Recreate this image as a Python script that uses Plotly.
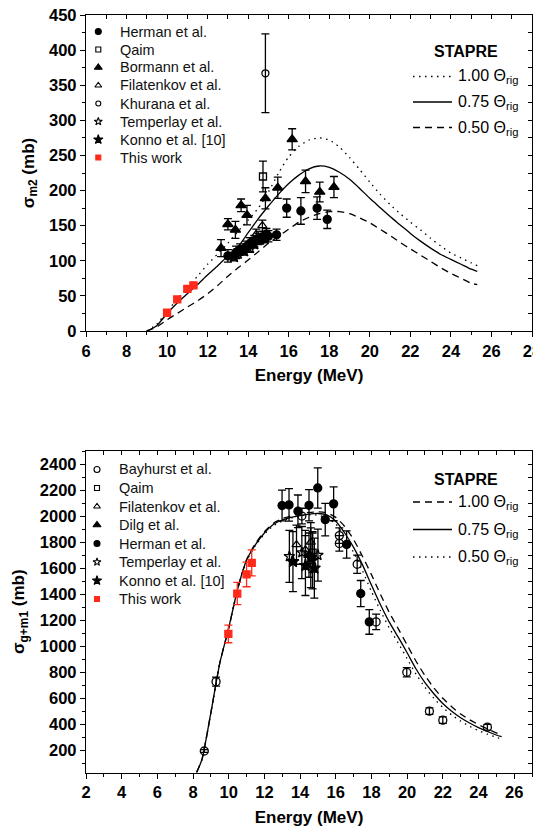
import plotly.graph_objects as go

# ---------------- top panel: sigma_m2 ----------------
herman_t_E = [13.0, 13.4, 13.6, 13.9, 14.1, 14.3, 14.5, 14.7, 14.9, 15.0, 15.4, 15.9, 16.6, 17.4, 17.9]
herman_t_v = [107, 112, 116, 120, 125, 128, 131, 134, 138, 135, 137, 175, 171, 175, 159]
herman_t_e = [9, 9, 8, 8, 8, 8, 8, 8, 8, 8, 8, 13, 19, 16, 13]

qaim_t_E = [14.73]
qaim_t_v = [220]
qaim_t_e = [22]

bormann_E = [12.66, 13.0, 13.37, 13.65, 13.94, 14.85, 15.46, 16.17, 16.83, 17.53, 18.23]
bormann_v = [118, 152, 144, 179, 165, 189, 204, 273, 213, 198, 205]
bormann_e = [12, 8, 12, 9, 14, 15, 15, 15, 16, 14, 15]

filat_t_E = [13.7, 14.1, 14.4, 14.7]
filat_t_v = [115, 127, 138, 150]
filat_t_e = [6, 6, 7, 8]

khurana_E = [14.85]
khurana_v = [367]
khurana_e = [56]

temper_t_E = [13.5, 14.1, 14.6]
temper_t_v = [110, 118, 130]
temper_t_e = [6, 6, 6]

konno_t_E = [13.3, 13.8, 14.3, 14.8]
konno_t_v = [106, 114, 124, 132]
konno_t_e = [6, 6, 6, 6]

work_t_E = [10.0, 10.5, 11.0, 11.3]
work_t_v = [26, 45, 60, 65]
work_t_e = [2, 3, 3, 3]

curve_t_E = [9.0, 9.5, 10, 10.5, 11, 11.5, 12, 12.5, 13, 13.5, 14, 14.5, 15, 15.5, 16, 16.5, 17,
             17.5, 18, 18.5, 19, 19.5, 20, 20.5, 21, 21.5, 22, 22.5, 23, 23.5, 24, 24.5, 25, 25.3]
curve_t_100 = [0, 10, 28, 45, 62, 78, 95, 110, 125, 142, 158, 175, 198, 225, 248, 263, 272,
               275, 272, 262, 247, 230, 212, 195, 180, 167, 155, 144, 132, 121, 111, 104, 97, 93]
curve_t_075 = [0, 8, 25, 40, 53, 66, 80, 93, 107, 120, 140, 160, 178, 195, 210, 222, 231,
               235, 233, 226, 216, 203, 189, 176, 163, 151, 139, 128, 118, 109, 102, 95, 88, 85]
curve_t_050 = [0, 6, 16, 25, 34, 43, 53, 65, 78, 90, 101, 113, 125, 135, 145, 155, 162,
               167, 170, 170, 167, 161, 154, 145, 136, 126, 117, 108, 99, 90, 82, 75, 68, 66]

# ---------------- bottom panel: sigma_g+m1 ----------------
bay_E = [8.63, 9.29, 14.1, 16.2, 16.2, 17.2, 18.26, 19.98, 21.25, 22.0, 24.5]
bay_v = [195, 728, 2000, 1850, 1790, 1630, 1187, 800, 501, 432, 378]
bay_e = [10, 35, 60, 60, 60, 70, 60, 35, 25, 25, 22]

qaim_b_E = [14.7]
qaim_b_v = [1720]
qaim_b_e = [150]

filat_b_E = [13.8, 14.3, 14.6]
filat_b_v = [1780, 1740, 1800]
filat_b_e = [150, 150, 150]

dilg_E = [14.5]
dilg_v = [1700]
dilg_e = [170]

herman_b_E = [12.99, 13.38, 13.88, 14.5, 14.99, 15.41, 15.88, 16.61, 17.4, 17.88]
herman_b_v = [2081, 2086, 2037, 2083, 2216, 1973, 2094, 1782, 1405, 1187]
herman_b_e = [118, 125, 125, 120, 155, 125, 130, 105, 100, 95]

temper_b_E = [13.4, 14.1, 14.7, 15.0]
temper_b_v = [1690, 1720, 1660, 1700]
temper_b_e = [200, 200, 220, 200]

konno_b_E = [13.6, 14.3, 14.6, 14.8]
konno_b_v = [1650, 1620, 1680, 1600]
konno_b_e = [230, 230, 230, 230]

work_b_E = [9.98, 10.48, 11.0, 11.29]
work_b_v = [1095, 1405, 1552, 1640]
work_b_e = [68, 85, 95, 100]

curve_b_E = [8.2, 8.5, 9.0, 9.5, 10.0, 10.5, 11.0, 11.5, 12.0, 12.5, 13.0, 13.5, 14.0, 14.5, 15.0,
             15.5, 16.0, 16.5, 17.0, 17.5, 18.0, 18.5, 19.0, 19.5, 20.0, 20.5, 21.0, 21.5, 22.0,
             22.5, 23.0, 23.5, 24.0, 24.5, 25.0, 25.3]
curve_b_100 = [30, 130, 490, 870, 1140, 1440, 1665, 1790, 1880, 1945, 1980, 2002, 2018, 2028, 2032,
               2025, 1990, 1920, 1820, 1690, 1550, 1400, 1260, 1135, 1010, 885, 775, 680, 600,
               535, 480, 435, 398, 365, 335, 320]
curve_b_075 = [30, 130, 490, 870, 1140, 1440, 1660, 1780, 1870, 1935, 1970, 1990, 2004, 2015, 2020,
               2009, 1960, 1870, 1760, 1625, 1470, 1320, 1185, 1070, 950, 825, 720, 635, 560,
               500, 450, 410, 375, 345, 318, 305]
curve_b_050 = [30, 130, 490, 870, 1140, 1440, 1655, 1775, 1862, 1925, 1962, 1985, 2002, 2010, 2008,
               1985, 1940, 1840, 1720, 1580, 1420, 1275, 1140, 1025, 905, 785, 685, 600, 530,
               472, 425, 385, 352, 325, 300, 290]

legend_top = ["Herman et al.", "Qaim", "Bormann et al.", "Filatenkov et al.", "Khurana et al.",
              "Temperlay et al.", "Konno et al. [10]", "This work"]
legend_bot = ["Bayhurst et al.", "Qaim", "Filatenkov et al.", "Dilg et al.", "Herman et al.",
              "Temperlay et al.", "Konno et al. [10]", "This work"]
theta_labels = ["1.00 \u0398<sub>rig</sub>", "0.75 \u0398<sub>rig</sub>", "0.50 \u0398<sub>rig</sub>"]

FONT = "Liberation Sans, Arial, Helvetica, sans-serif"
# the page body has an 8px default margin: the figure is laid out in window pixels minus that offset
OFF = 8
W, H = 541 - OFF, 828 - OFF
RED = "#ff2a1a"
DOT = "1.5px,4.5px"
DASH = "7px,5px"


def px(x):   # window pixel x -> paper fraction
    return (x - OFF) / W


def py(y):   # window pixel y -> paper fraction
    return 1 - (y - OFF) / H


SYM = {
    "Herman et al.": ("circle", 8, "black"),
    "Qaim": ("square-open", 7, "black"),
    "Bormann et al.": ("triangle-up", 9, "black"),
    "Filatenkov et al.": ("triangle-up-open", 8, "black"),
    "Khurana et al.": ("circle-open", 7, "black"),
    "Temperlay et al.": ("star-open", 8, "black"),
    "Konno et al. [10]": ("star", 9, "black"),
    "This work": ("square", 7, RED),
    "Bayhurst et al.": ("circle-open", 8, "black"),
    "Dilg et al.": ("triangle-up", 9, "black"),
}

fig = go.Figure()


def pts(E, v, e, name, xa, ya):
    symbol, size, color = SYM[name]
    fig.add_trace(go.Scatter(
        x=E, y=v, mode="markers", name=name, xaxis=xa, yaxis=ya, showlegend=False,
        marker=dict(symbol=symbol, size=size, color=color, line=dict(color=color, width=1.3)),
        error_y=dict(type="data", array=e, visible=True, color=color, thickness=1.3, width=4),
        cliponaxis=False,
    ))


def curve(E, v, name, dash, xa, ya):
    fig.add_trace(go.Scatter(
        x=E, y=v, mode="lines", name=name, xaxis=xa, yaxis=ya, showlegend=False,
        line=dict(color="black", width=1.3, dash=dash, shape="spline", smoothing=0.6),
    ))


# top
curve(curve_t_E, curve_t_100, theta_labels[0], DOT, "x", "y")
curve(curve_t_E, curve_t_075, theta_labels[1], "solid", "x", "y")
curve(curve_t_E, curve_t_050, theta_labels[2], DASH, "x", "y")
pts(herman_t_E, herman_t_v, herman_t_e, "Herman et al.", "x", "y")
pts(qaim_t_E, qaim_t_v, qaim_t_e, "Qaim", "x", "y")
pts(bormann_E, bormann_v, bormann_e, "Bormann et al.", "x", "y")
pts(filat_t_E, filat_t_v, filat_t_e, "Filatenkov et al.", "x", "y")
pts(khurana_E, khurana_v, khurana_e, "Khurana et al.", "x", "y")
pts(temper_t_E, temper_t_v, temper_t_e, "Temperlay et al.", "x", "y")
pts(konno_t_E, konno_t_v, konno_t_e, "Konno et al. [10]", "x", "y")
pts(work_t_E, work_t_v, work_t_e, "This work", "x", "y")

# bottom
curve(curve_b_E, curve_b_100, theta_labels[0], DASH, "x2", "y2")
curve(curve_b_E, curve_b_075, theta_labels[1], "solid", "x2", "y2")
curve(curve_b_E, curve_b_050, theta_labels[2], DOT, "x2", "y2")
pts(bay_E, bay_v, bay_e, "Bayhurst et al.", "x2", "y2")
pts(qaim_b_E, qaim_b_v, qaim_b_e, "Qaim", "x2", "y2")
pts(filat_b_E, filat_b_v, filat_b_e, "Filatenkov et al.", "x2", "y2")
pts(dilg_E, dilg_v, dilg_e, "Dilg et al.", "x2", "y2")
pts(herman_b_E, herman_b_v, herman_b_e, "Herman et al.", "x2", "y2")
pts(temper_b_E, temper_b_v, temper_b_e, "Temperlay et al.", "x2", "y2")
pts(konno_b_E, konno_b_v, konno_b_e, "Konno et al. [10]", "x2", "y2")
pts(work_b_E, work_b_v, work_b_e, "This work", "x2", "y2")

# invisible traces to activate mirrored (inside-tick) axes
fig.add_trace(go.Scatter(x=[None], y=[None], xaxis="x3", yaxis="y3", showlegend=False, hoverinfo="skip"))
fig.add_trace(go.Scatter(x=[None], y=[None], xaxis="x4", yaxis="y4", showlegend=False, hoverinfo="skip"))

# ---------------- hand-built legends (window-pixel overlay x5/y5) ----------------
annotations = []


def data_legend(names, kx, tx, y0, dy):
    for i, nm in enumerate(names):
        symbol, size, color = SYM[nm]
        yy = y0 + i * dy
        fig.add_trace(go.Scatter(x=[kx], y=[yy], mode="markers", xaxis="x5", yaxis="y5",
                                 showlegend=False, hoverinfo="skip",
                                 marker=dict(symbol=symbol, size=max(size - 2, 5), color=color,
                                             line=dict(color=color, width=1.1))))
        annotations.append(dict(text=nm, x=px(tx), y=py(yy), xref="paper", yref="paper",
                                xanchor="left", yanchor="middle", showarrow=False,
                                font=dict(family=FONT, size=14.5, color="#111")))


def curve_legend(dashes, x0, x1, tx, ytitle, rows):
    annotations.append(dict(text="STAPRE", x=px(466), y=py(ytitle), xref="paper", yref="paper",
                            showarrow=False, xanchor="center", yanchor="middle",
                            font=dict(family=FONT, size=16, color="black", weight="bold")))
    for lab, dash, yy in zip(theta_labels, dashes, rows):
        fig.add_trace(go.Scatter(x=[x0, x1], y=[yy, yy], mode="lines", xaxis="x5", yaxis="y5",
                                 showlegend=False, hoverinfo="skip",
                                 line=dict(color="black", width=1.3, dash=dash)))
        annotations.append(dict(text=lab, x=px(tx), y=py(yy - 1), xref="paper", yref="paper",
                                xanchor="left", yanchor="top", showarrow=False, yshift=10,
                                font=dict(family=FONT, size=16, color="black")))


data_legend(legend_top, 98.3, 117.5, 31.5, 18.0)
data_legend(legend_bot, 97.0, 116.5, 469.5, 18.5)
curve_legend([DOT, "solid", DASH], 413, 452, 456, 51, [76.5, 102, 127.5])
curve_legend([DASH, "solid", DOT], 413, 452, 456, 479.5, [502, 529.5, 557])

XD = [px(86), px(532)]
YD_T = [py(331), py(15)]
YD_B = [py(772.5), py(451)]

tickfont = dict(family=FONT, size=16.5, color="black", weight="bold")
titlefont = dict(family=FONT, size=17, color="black", weight="bold")

base = dict(showgrid=False, zeroline=False, showline=True, linecolor="black", linewidth=1.3,
            ticks="outside", ticklen=5, tickwidth=1.3, tickcolor="black", tickfont=tickfont,
            fixedrange=True, automargin=False, ticklabeloverflow="allow")
minor_out = dict(ticks="outside", ticklen=3, tickwidth=1.3, tickcolor="black")

fig.update_layout(
    width=W, height=H, margin=dict(l=0, r=0, t=0, b=0, autoexpand=False),
    paper_bgcolor="white", plot_bgcolor="rgba(0,0,0,0)", showlegend=False,
    font=dict(family=FONT, color="black"),
    xaxis=dict(base, domain=XD, anchor="y", range=[6, 28], dtick=2, tick0=6,
               minor=dict(minor_out, dtick=1),
               title=dict(text="Energy (MeV)", font=titlefont, standoff=10)),
    yaxis=dict(base, domain=YD_T, anchor="x", range=[0, 450], dtick=50, tick0=0,
               minor=dict(minor_out, dtick=25),
               title=dict(text="\u03c3<sub>m2</sub> (mb)", font=titlefont, standoff=10)),
    xaxis3=dict(base, overlaying="x", side="top", anchor="y3", range=[6, 28], dtick=1,
                ticks="inside", ticklen=4, showticklabels=False),
    yaxis3=dict(base, overlaying="y", side="right", anchor="x3", range=[0, 450], dtick=25,
                ticks="inside", ticklen=4, showticklabels=False),
    xaxis2=dict(base, domain=XD, anchor="y2", range=[2, 27], dtick=2, tick0=2,
                minor=dict(minor_out, dtick=1),
                title=dict(text="Energy (MeV)", font=titlefont, standoff=10)),
    yaxis2=dict(base, domain=YD_B, anchor="x2", range=[30, 2500], dtick=200, tick0=0,
                minor=dict(minor_out, dtick=100),
                title=dict(text="\u03c3<sub>g+m1</sub> (mb)", font=titlefont, standoff=10)),
    xaxis4=dict(base, overlaying="x2", side="top", anchor="y4", range=[2, 27], dtick=1,
                ticks="inside", ticklen=4, showticklabels=False),
    yaxis4=dict(base, overlaying="y2", side="right", anchor="x4", range=[30, 2500], dtick=100, tick0=0,
                ticks="inside", ticklen=4, showticklabels=False),
    xaxis5=dict(domain=[0, 1], anchor="y5", range=[OFF, OFF + W], visible=False, fixedrange=True),
    yaxis5=dict(domain=[0, 1], anchor="x5", range=[OFF + H, OFF], visible=False, fixedrange=True),
    annotations=annotations,
)

fig.write_html("out.html")
